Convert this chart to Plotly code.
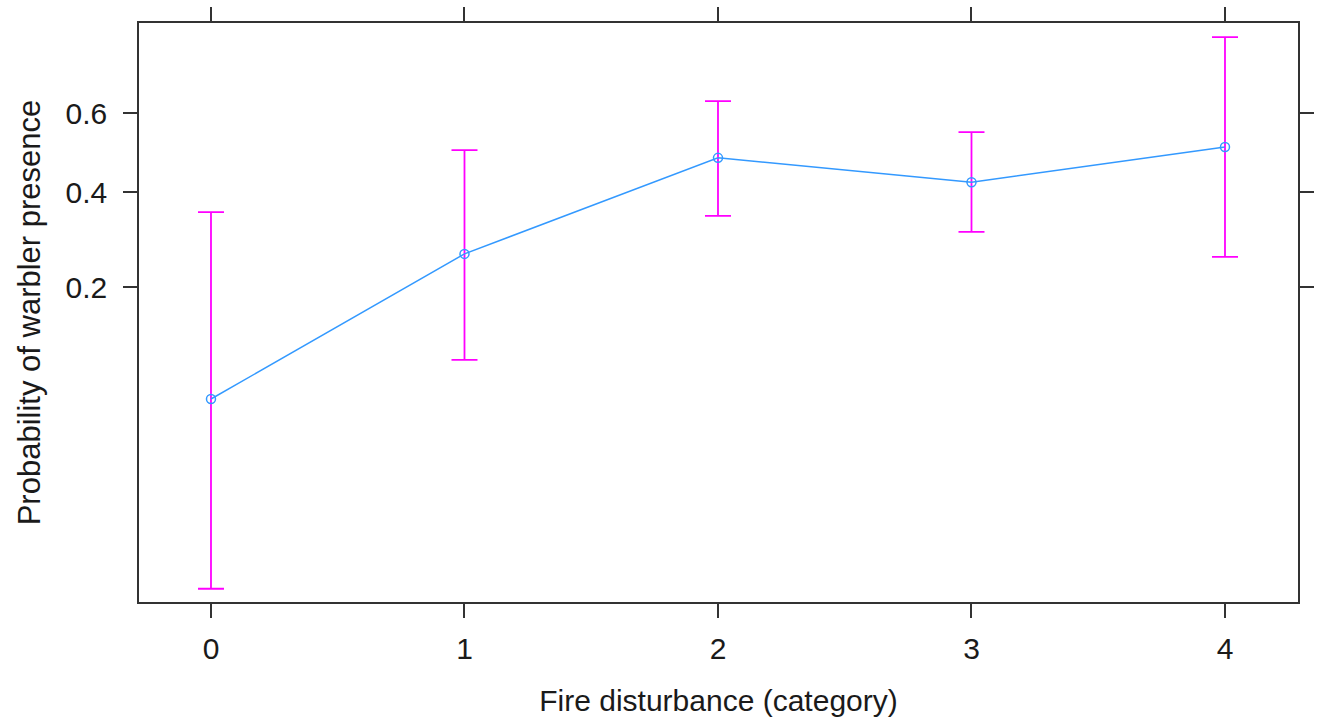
import numpy as np
import plotly.graph_objects as go

categories = [0, 1, 2, 3, 4]
fit = [0.0734, 0.261, 0.487, 0.425, 0.515]
lower = [0.0111, 0.106, 0.343, 0.307, 0.255]
upper = [0.352, 0.507, 0.630, 0.553, 0.767]
tick_probs = [0.2, 0.4, 0.6]
tick_labels = ["0.2", "0.4", "0.6"]


def logit(p):
    p = np.asarray(p, dtype=float)
    return np.log(p / (1 - p))


lf = logit(fit)
ll = logit(lower)
lu = logit(upper)

fig = go.Figure()
fig.add_trace(go.Scatter(
    x=categories, y=lf,
    mode="lines+markers",
    line=dict(color="#3399FF", width=1.5),
    marker=dict(symbol="circle-open", size=9, color="#3399FF", line=dict(width=1.5)),
    error_y=dict(type="data", symmetric=False, array=lu - lf, arrayminus=lf - ll,
                 color="#FF00FF", thickness=1.8, width=13),
    showlegend=False,
))

font = "Liberation Sans, Arial, sans-serif"
fs = 30
fig.update_layout(
    width=1320, height=726, autosize=False,
    margin=dict(l=139, r=22, t=23, b=124, pad=0, autoexpand=False),
    paper_bgcolor="white", plot_bgcolor="white",
    font=dict(family=font, size=fs, color="#1a1a1a"),
)
fig.update_xaxes(
    range=[-0.284, 4.288], tickvals=categories, ticktext=[str(c) for c in categories],
    showgrid=False, zeroline=False, showline=True, linecolor="#333333", linewidth=1.6,
    mirror="ticks", ticks="outside", ticklen=14, tickwidth=1.6, tickcolor="#333333",
    ticklabelstandoff=5, automargin=False,
    tickfont=dict(size=fs, family=font), title=dict(text="Fire disturbance (category)",
                                                     font=dict(size=fs, family=font), standoff=26),
)
fig.update_yaxes(
    range=[-4.626, 1.337], tickvals=logit(tick_probs), ticktext=tick_labels,
    showgrid=False, zeroline=False, showline=True, linecolor="#333333", linewidth=1.6,
    mirror="ticks", ticks="outside", ticklen=14, tickwidth=1.6, tickcolor="#333333",
    ticklabelstandoff=10, automargin=False,
    tickfont=dict(size=fs, family=font), title=dict(text="Probability of warbler presence",
                                                     font=dict(size=31, family=font), standoff=16),
)

fig.write_html("out.html", config={"displayModeBar": False},
               post_script="document.body.style.margin='0';document.body.style.overflow='hidden';")
